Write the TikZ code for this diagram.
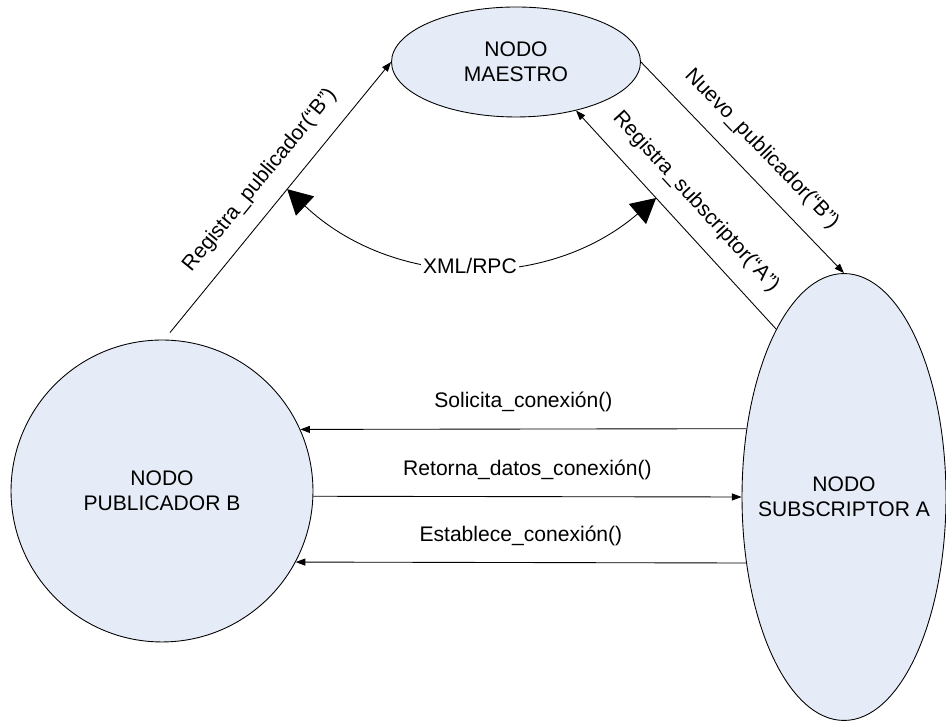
\documentclass[tikz,border=0pt]{standalone}
\usepackage{fontspec}
\setmainfont{Liberation Sans}
\usetikzlibrary{arrows.meta,shapes.geometric,calc}
\definecolor{nodofill}{HTML}{E6ECF7}

\begin{document}
\begin{tikzpicture}[x=0.02cm, y=0.02cm, font=\fontsize{12}{14.4}\selectfont,
  nodo/.style={draw, fill=nodofill, line width=0.5pt, align=center, inner sep=0pt},
  msg/.style={-{Triangle[length=5.5pt,width=4pt]}, line width=0.5pt},
  lbl/.style={sloped, above=6pt, midway}]
\useasboundingbox (0,0) rectangle (946,722);
%% --- nodos ---
\node[nodo, ellipse, minimum width=4.98cm, minimum height=2.2cm] (maestro) at (516,660) {NODO\\MAESTRO};
\node[nodo, circle, minimum size=6.04cm] (publicador) at (162,231) {NODO\\PUBLICADOR B};
\node[nodo, ellipse, inner xsep=-1cm, minimum width=4.08cm, minimum height=8.94cm] (subscriptor) at (844,225) {NODO\\SUBSCRIPTOR A};

%% --- registro en el maestro ---
\coordinate (rp) at ($(publicador.north)+(8,7)$);
\draw[msg] (rp) -- node[lbl] {Registra\_publicador(“B”)} (maestro.west);
\draw[msg] (maestro.east) -- node[lbl] {Nuevo\_publicador(“B”)} (subscriptor.north);
\draw[msg] (subscriptor.112) -- node[lbl] {Registra\_subscriptor(“A”)} (maestro.-39);

%% --- XML/RPC ---
\coordinate (xl) at ($(rp)!0.53!(maestro.west)$);
\coordinate (xr) at ($(subscriptor.112)!0.6!(maestro.-39)$);
\draw[{Triangle[length=14pt,width=15pt]}-{Triangle[length=14pt,width=15pt]}, line width=0.5pt]
  (xl) to[bend right=42] node[fill=white, inner sep=1pt] {XML/RPC} (xr);

%% --- conexion entre nodos ---
\draw[msg] (subscriptor.145) -- node[above=6pt] {Solicita\_conexión()} (publicador.24.2);
\draw[msg] (publicador.-2.3) -- node[above=6pt] {Retorna\_datos\_conexión()} (subscriptor.west);
\draw[msg] (subscriptor.-146.3) -- node[above=6pt] {Establece\_conexión()} (publicador.-28);
\end{tikzpicture}
\end{document}
